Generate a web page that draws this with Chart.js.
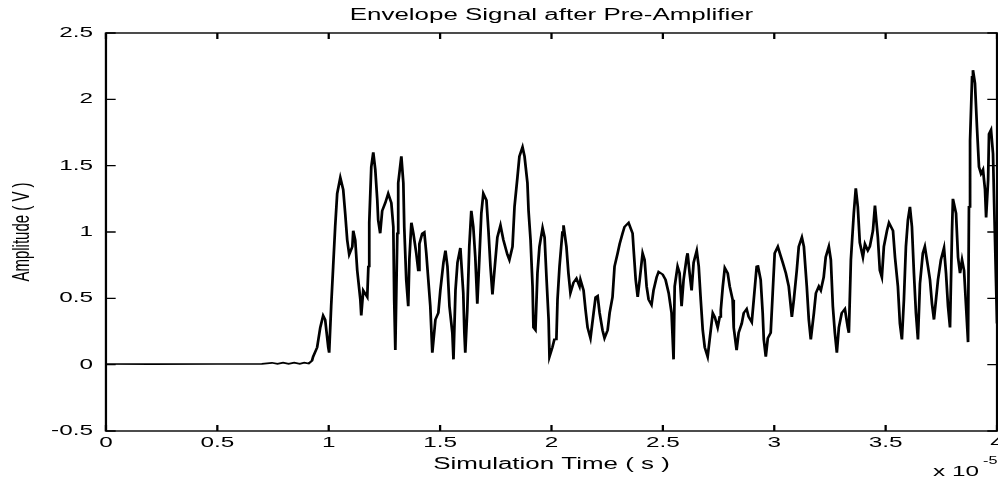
<!DOCTYPE html>
<html>
<head>
<meta charset="utf-8">
<script src="https://cdn.jsdelivr.net/npm/chart.js@4.4.1/dist/chart.umd.min.js"></script>
<style>
  html, body { margin: 0; padding: 0; background: #fff; }
</style>
</head>
<body>
<canvas id="myChart" width="616" height="483" style="display:block;width:998px;height:483px"></canvas>
<script>
// time in units of 1e-5 s (axis shows "x 10^-5")
const timeE5 = [
  0.000, 0.200, 0.500, 0.700, 0.745, 0.770, 0.795, 0.820, 0.845, 0.870, 0.890, 0.910, 0.925,
  0.930, 0.948, 0.962, 0.975, 0.984, 0.998, 1.002, 1.011, 1.020, 1.029, 1.038, 1.052, 1.065,
  1.074, 1.083, 1.092, 1.106, 1.110, 1.119, 1.128, 1.142, 1.146, 1.155, 1.173, 1.178, 1.182,
  1.191, 1.200, 1.209, 1.218, 1.222, 1.231, 1.240, 1.254, 1.267, 1.281, 1.290, 1.294, 1.299,
  1.308, 1.312, 1.326, 1.335, 1.339, 1.348, 1.357, 1.362, 1.371, 1.380, 1.393, 1.402, 1.407,
  1.420, 1.429, 1.438, 1.447, 1.456, 1.465, 1.479, 1.492,
  1.501, 1.515, 1.524, 1.533, 1.542, 1.555, 1.560, 1.569, 1.578, 1.591, 1.604, 1.609, 1.613,
  1.622, 1.631, 1.640, 1.649, 1.658, 1.667, 1.676, 1.685, 1.694, 1.708, 1.717, 1.726, 1.735,
  1.744, 1.757, 1.771, 1.784, 1.802, 1.811, 1.825, 1.834, 1.847, 1.856, 1.870, 1.879, 1.892,
  1.897, 1.906, 1.915, 1.919, 1.928, 1.937, 1.946, 1.960, 1.969, 1.978, 1.987, 1.991, 2.004,
  2.013, 2.022, 2.027, 2.036, 2.049, 2.054, 2.067, 2.076, 2.085, 2.099, 2.112, 2.126,
  2.130, 2.144, 2.153, 2.162, 2.175, 2.189, 2.198, 2.207, 2.216, 2.229, 2.238, 2.252, 2.261,
  2.274, 2.283, 2.297, 2.306, 2.319, 2.328, 2.346, 2.364, 2.369, 2.378, 2.387, 2.396, 2.409,
  2.418, 2.427, 2.436, 2.449, 2.458, 2.472, 2.481, 2.499, 2.512, 2.526, 2.539, 2.548, 2.553,
  2.566, 2.575, 2.584, 2.593, 2.607, 2.611, 2.620, 2.629, 2.638, 2.652, 2.661, 2.670, 2.679,
  2.688, 2.701, 2.710, 2.724, 2.733, 2.746, 2.755,
  2.760, 2.769, 2.778, 2.791, 2.800, 2.813, 2.818, 2.831, 2.840, 2.854, 2.863, 2.876, 2.885,
  2.899, 2.908, 2.921, 2.926, 2.939, 2.948, 2.953, 2.962, 2.971, 2.984, 2.993, 3.002, 3.016,
  3.025, 3.038, 3.052, 3.065, 3.079, 3.088, 3.101, 3.110, 3.124, 3.133, 3.146, 3.155, 3.164,
  3.178, 3.187, 3.200, 3.209, 3.222, 3.231, 3.245, 3.254, 3.263, 3.272, 3.281, 3.290, 3.303,
  3.317, 3.330, 3.335, 3.344, 3.357, 3.366, 3.375, 3.384,
  3.398, 3.407, 3.420, 3.429, 3.443, 3.452, 3.465, 3.474, 3.483, 3.492, 3.506, 3.515, 3.533,
  3.542, 3.555, 3.564, 3.573, 3.582, 3.591, 3.600, 3.609, 3.618, 3.627, 3.636, 3.645, 3.654,
  3.667, 3.676, 3.690, 3.699, 3.708, 3.717, 3.726, 3.735, 3.748, 3.762, 3.771, 3.780, 3.789,
  3.798, 3.802, 3.816, 3.825, 3.834, 3.843, 3.852, 3.861, 3.870, 3.874, 3.879, 3.888, 3.892,
  3.901, 3.910, 3.919, 3.928, 3.937, 3.946, 3.951, 3.960, 3.964, 3.973, 3.982, 3.987, 3.996,
  4.000
];
const amplitudeV = [
  0.005, 0.004, 0.005, 0.006, 0.014, 0.006, 0.015, 0.006, 0.015, 0.007, 0.015, 0.008, 0.03,
  0.06, 0.13, 0.28, 0.37, 0.34, 0.13, 0.09, 0.44, 0.74, 1.04, 1.29, 1.41, 1.32,
  1.14, 0.94, 0.83, 0.89, 1.01, 0.94, 0.71, 0.49, 0.37, 0.56, 0.51, 0.74, 1.07,
  1.49, 1.60, 1.47, 1.24, 1.09, 0.99, 1.16, 1.22, 1.29, 1.22, 1.04, 0.49, 0.11,
  0.99, 1.37, 1.57, 1.37, 1.04, 0.64, 0.44, 0.79, 1.07, 0.99, 0.84, 0.71, 0.91,
  0.99, 1.00, 0.84, 0.64, 0.44, 0.09, 0.34, 0.39,
  0.56, 0.77, 0.86, 0.74, 0.44, 0.24, 0.04, 0.56, 0.77, 0.88, 0.54, 0.24, 0.09,
  0.41, 0.89, 1.16, 1.04, 0.81, 0.46, 0.79, 1.14, 1.29, 1.24, 1.01, 0.74, 0.53,
  0.71, 0.96, 1.05, 0.94, 0.83, 0.79, 0.89, 1.19, 1.41, 1.57, 1.64, 1.57, 1.37,
  1.16, 0.94, 0.59, 0.28, 0.26, 0.69, 0.89, 1.03, 0.96, 0.64, 0.34, 0.06, 0.13,
  0.19, 0.19, 0.49, 0.74, 1.00, 1.05, 0.89, 0.69, 0.54, 0.62, 0.65, 0.59,
  0.64, 0.56, 0.41, 0.28, 0.20, 0.39, 0.51, 0.52, 0.39, 0.26, 0.20, 0.26, 0.39,
  0.51, 0.74, 0.84, 0.91, 0.99, 1.04, 1.07, 0.99, 0.86, 0.64, 0.51, 0.64, 0.84,
  0.79, 0.59, 0.49, 0.45, 0.56, 0.66, 0.70, 0.68, 0.64, 0.54, 0.39, 0.04, 0.59,
  0.74, 0.69, 0.44, 0.64, 0.81, 0.84, 0.69, 0.56, 0.77, 0.86, 0.74, 0.49, 0.26,
  0.13, 0.06, 0.19, 0.39, 0.36, 0.28, 0.36,
  0.41, 0.59, 0.73, 0.69, 0.59, 0.49, 0.28, 0.11, 0.24, 0.31, 0.39, 0.42, 0.36,
  0.32, 0.49, 0.74, 0.75, 0.64, 0.39, 0.19, 0.06, 0.20, 0.24, 0.54, 0.84, 0.89,
  0.84, 0.77, 0.69, 0.59, 0.36, 0.49, 0.71, 0.89, 0.96, 0.89, 0.59, 0.34, 0.19,
  0.39, 0.54, 0.59, 0.56, 0.66, 0.81, 0.89, 0.79, 0.44, 0.24, 0.09, 0.28, 0.39,
  0.42, 0.28, 0.24, 0.79, 1.14, 1.33, 1.19, 0.92,
  0.81, 0.91, 0.86, 0.89, 1.01, 1.20, 0.96, 0.71, 0.66, 0.89, 1.01, 1.07, 1.01,
  0.81, 0.59, 0.31, 0.19, 0.49, 0.89, 1.09, 1.19, 1.04, 0.69, 0.39, 0.19, 0.61,
  0.84, 0.89, 0.74, 0.64, 0.46, 0.34, 0.49, 0.64, 0.79, 0.88, 0.69, 0.44, 0.28,
  1.01, 1.25, 1.14, 0.81, 0.69, 0.79, 0.71, 0.44, 0.17, 1.19, 1.69, 2.17, 2.22,
  2.12, 1.79, 1.49, 1.44, 1.47, 1.32, 1.11, 1.39, 1.74, 1.77, 1.59, 1.22, 0.59,
  0.31
];
const xTickValues = [0, 0.5, 1, 1.5, 2, 2.5, 3, 3.5, 4];
const xTickLabels = ['0', '0.5', '1', '1.5', '2', '2.5', '3', '3.5', '4'];
const yTickValues = [-0.5, 0, 0.5, 1, 1.5, 2, 2.5];
const yTickLabels = ['-0.5', '0', '0.5', '1', '1.5', '2', '2.5'];

// the reference figure is stretched sideways, so the chart is laid out
// narrower and drawn with a horizontal scale onto the full-width canvas
const PAGE_W = 998;
const FONT = "'Liberation Sans', Arial, Helvetica, sans-serif";
const TICK = 6;

const stretch = {
  id: 'stretch',
  beforeDraw(chart) {
    const c = chart.canvas;
    if (c.width !== PAGE_W) c.width = PAGE_W;
    chart.ctx.setTransform(PAGE_W / chart.width, 0, 0, 1, 0, 0);
  }
};

const matlabFrame = {
  id: 'matlabFrame',
  afterDraw(chart) {
    const {ctx, chartArea: a, scales: {x, y}} = chart;
    ctx.save();
    ctx.strokeStyle = '#000';
    ctx.lineWidth = 1.4;
    ctx.strokeRect(a.left, a.top, a.width, a.height);
    ctx.beginPath();
    xTickValues.forEach(v => {
      const px = x.getPixelForValue(v);
      ctx.moveTo(px, a.bottom); ctx.lineTo(px, a.bottom - TICK);
      ctx.moveTo(px, a.top); ctx.lineTo(px, a.top + TICK);
    });
    yTickValues.forEach(v => {
      const py = y.getPixelForValue(v);
      ctx.moveTo(a.left, py); ctx.lineTo(a.left + TICK, py);
      ctx.moveTo(a.right, py); ctx.lineTo(a.right - TICK, py);
    });
    ctx.stroke();
    // exponent note under the right end of the x axis
    ctx.fillStyle = '#000';
    ctx.textBaseline = 'alphabetic';
    ctx.textAlign = 'left';
    ctx.font = '15px ' + FONT;
    ctx.fillText('x 10', a.right - 39.5, 476);
    ctx.font = '10px ' + FONT;
    ctx.fillText('-5', a.right - 8.6, 464);
    ctx.restore();
  }
};

const points = timeE5.map((t, i) => ({x: t, y: amplitudeV[i]}));

const config = {
  type: 'line',
  data: {
    datasets: [{
      data: points,
      borderColor: '#000',
      borderWidth: 1.7,
      pointRadius: 0,
      fill: false,
      tension: 0
    }]
  },
  plugins: [stretch, matlabFrame],
  options: {
    responsive: false,
    animation: false,
    events: [],
    layout: { padding: { left: 0, right: 0.6, top: 0, bottom: 0 } },
    plugins: {
      legend: { display: false },
      tooltip: { enabled: false },
      title: {
        display: true,
        fullSize: false,
        text: 'Envelope Signal after Pre-Amplifier',
        color: '#000',
        font: { family: FONT, size: 16, weight: 'normal' },
        padding: { top: 6, bottom: 7.8 }
      }
    },
    scales: {
      x: {
        type: 'linear',
        min: 0, max: 4,
        grid: { display: false, drawTicks: false },
        border: { display: false },
        ticks: {
          stepSize: 0.5,
          padding: 2.5,
          color: '#000',
          maxRotation: 0,
          font: { family: FONT, size: 15 },
          callback: (v) => {
            const i = xTickValues.indexOf(v);
            return i < 0 ? '' : xTickLabels[i];
          }
        },
        title: {
          display: true,
          text: 'Simulation Time ( s )',
          color: '#000',
          font: { family: FONT, size: 16 },
          padding: { top: 0, bottom: 8.4 }
        },
        afterFit(scale) {
          scale.height = 52;
          scale.paddingLeft = 0;
          scale.paddingRight = 0;
        }
      },
      y: {
        min: -0.5, max: 2.5,
        grid: { display: false, drawTicks: false },
        border: { display: false },
        ticks: {
          stepSize: 0.5,
          padding: 8,
          color: '#000',
          font: { family: FONT, size: 15 },
          callback: (v) => {
            const i = yTickValues.indexOf(v);
            return i < 0 ? '' : yTickLabels[i];
          }
        },
        title: {
          display: true,
          text: 'Amplitude ( V )',
          color: '#000',
          font: { family: FONT, size: 15 },
          padding: { top: 4.6, bottom: 0 }
        },
        afterFit(scale) {
          scale.width = 65.4;
          scale.paddingTop = 0;
          scale.paddingBottom = 0;
        }
      }
    }
  }
};

var myChart = new Chart(document.getElementById('myChart'), config);
</script>
</body>
</html>
